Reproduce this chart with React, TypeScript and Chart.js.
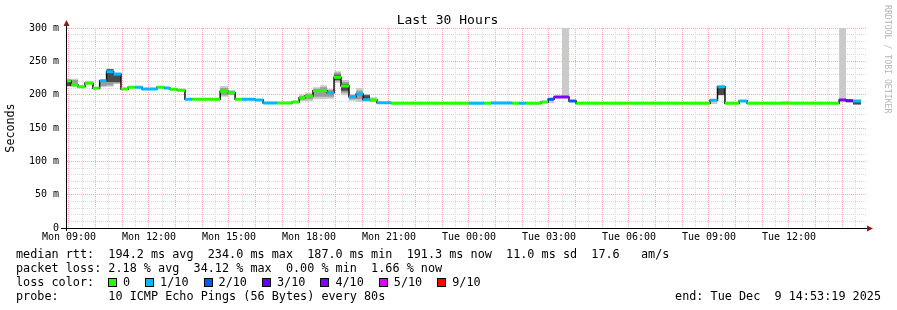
import React, { useEffect, useRef } from 'react';
import { Chart, registerables } from 'chart.js';

Chart.register(...registerables);

// x axis: hours since Mon 00:00; window = last 30 hours ending Tue 14:53:19
const windowStart = 8 + 53 / 60 + 19 / 3600;
const windowEnd = windowStart + 30;

const chartTitle = 'Last 30 Hours';
const yAxisTitle = 'Seconds';
const watermark = 'RRDTOOL / TOBI OETIKER';

const xLabelHours = [9, 12, 15, 18, 21, 24, 27, 30, 33, 36];
const xLabelText = ['Mon 09:00', 'Mon 12:00', 'Mon 15:00', 'Mon 18:00', 'Mon 21:00', 'Tue 00:00', 'Tue 03:00', 'Tue 06:00', 'Tue 09:00', 'Tue 12:00'];
const yLabelValues = [0, 50, 100, 150, 200, 250, 300];
const yLabelText = ['0', '50 m', '100 m', '150 m', '200 m', '250 m', '300 m'];

// median RTT segments (start hour, ms, lost pings out of 10)
const segStart = [
  8.889, 9.08, 9.34, 9.60, 9.90, 10.15, 10.41, 10.67, 10.95, 11.22,
  11.48, 11.74, 12.30, 12.57, 12.79, 13.05, 13.35, 13.62, 14.67, 14.97,
  15.23, 15.49, 15.98, 16.28, 16.80, 17.37, 17.63, 17.85, 18.15, 18.42,
  18.68, 18.94, 19.20, 19.50, 19.77, 20.03, 20.29, 20.55, 21.08, 24.00,
  24.57, 24.83, 25.62, 25.88, 26.14, 26.70, 26.97, 27.19, 27.49, 27.75,
  28.02, 33.04, 33.32, 33.60, 34.13, 34.43, 35.74, 36.00, 37.88, 38.14,
  38.40,
];
const segEnd = 38.70;
const medianMs = [
  221, 214.5, 212, 217, 209.5, 221, 234.5, 231, 208.5, 211,
  211, 208.5, 211, 210, 208, 206.5, 193, 193, 205, 203,
  193, 193, 192, 187.5, 187.5, 189, 195.5, 198, 206, 206,
  203, 226, 213, 197, 201, 192.5, 192, 188, 187, 187,
  187, 187.5, 187, 187, 187, 189, 193, 196.5, 196.5, 190.5,
  187, 191.5, 212, 187, 190.5, 187, 187, 187, 192, 191,
  190.5,
];
const lossTenths = [
  0, 0, 0, 0, 0, 1, 1, 1, 0, 0,
  1, 1, 0, 1, 0, 0, 1, 0, 0, 0,
  0, 1, 1, 1, 0, 0, 0, 0, 0, 0,
  1, 0, 0, 1, 1, 1, 0, 1, 0, 1,
  0, 1, 0, 1, 0, 0, 2, 4, 4, 2,
  0, 1, 1, 0, 1, 0, 0, 0, 4, 3,
  1,
];

// smoke (ping spread) per segment, ms; null = none visible
const smokeOuterLo = [
  212, 212, null, 216, null, 211, 212, 216, null, null,
  null, null, null, null, null, null, null, null, 197, 199,
  null, null, null, null, null, null, 190, 190, 193, 193,
  194, 218, 199, 191, 189, 190, 189, null, null, null,
  null, null, null, null, null, null, 187, null, 196.5, null,
  null, 186, 199, null, null, null, 187, null, 192, 188,
  185,
];
const smokeOuterHi = [
  224, 224, null, 221, null, 221, 239, 232, null, null,
  null, null, null, null, null, null, null, null, 213, 207,
  null, null, null, null, null, null, 200, 203, 211, 214,
  209, 235, 222, 201, 210, 201, 196, null, null, null,
  null, null, null, null, null, null, 193, null, 300, null,
  null, 191.5, 212, null, null, null, 190.5, null, 300, 193,
  191,
];
const smokeInnerLo = [
  213, 213, null, 217, null, 213, 214, 217, null, null,
  null, null, null, null, null, null, null, null, 199, 200,
  null, null, null, null, null, null, 192, 193, 197, 197,
  197, 220, 203, 193, 193, 191, 190, null, null, null,
  null, null, null, null, null, null, null, null, null, null,
  null, null, 199, null, null, null, null, null, null, 189,
  185,
];
const smokeInnerHi = [
  221, 222, null, 219, null, 219, 238, 230, null, null,
  null, null, null, null, null, null, null, null, 210, 205,
  null, null, null, null, null, null, 198, 201, 209, 211,
  207, 233, 219, 199, 206, 200, 194, null, null, null,
  null, null, null, null, null, null, null, null, null, null,
  null, null, 211.5, null, null, null, null, null, null, 192,
  190,
];
const smokeCoreLo = [
  213, null, null, null, null, null, 219, 219, null, null,
  null, null, null, null, null, null, null, null, null, null,
  null, null, null, null, null, null, null, null, null, null,
  null, 222, 206, null, null, 191, null, null, null, null,
  null, null, null, null, null, null, null, null, null, null,
  null, null, 199.5, null, null, null, null, null, null, null,
  185.5,
];
const smokeCoreHi = [
  219, null, null, null, null, null, 238, 229, null, null,
  null, null, null, null, null, null, null, null, null, null,
  null, null, null, null, null, null, null, null, null, null,
  null, 230, 216, null, null, 199, null, null, null, null,
  null, null, null, null, null, null, null, null, null, null,
  null, null, 211, null, null, null, null, null, null, null,
  189.5,
];

const lossLevels = [0, 1, 2, 3, 4, 5, 9];
const lossLabels = ['0', '1/10', '2/10', '3/10', '4/10', '5/10', '9/10'];
const lossColors = ['#26ff00', '#00b8ff', '#0059ff', '#5e00ff', '#7e00ff', '#dd00ff', '#ff0000'];

const statRows = [
  'median rtt:  194.2 ms avg  234.0 ms max  187.0 ms min  191.3 ms now  11.0 ms sd  17.6   am/s',
  'packet loss: 2.18 % avg  34.12 % max  0.00 % min  1.66 % now',
];
const lossRowLabel = 'loss color:';
const probeRow = 'probe:       10 ICMP Echo Pings (56 Bytes) every 80s';
const endRow = 'end: Tue Dec  9 14:53:19 2025';

const MONO = '"DejaVu Sans Mono", monospace';
const MAJOR_GRID = '#f4aaaa';
const MINOR_GRID = '#dadada';

function stepPoints(vals: (number | null)[]) {
  const n = segStart.length;
  const pts = segStart.map((x, i) => ({ x, y: vals[i] ?? medianMs[i] }));
  pts.push({ x: segEnd, y: vals[n - 1] ?? medianMs[n - 1] });
  return pts;
}

function barPoints(level: number) {
  const pts: { x: number; y: number | null }[] = [];
  const n = segStart.length;
  for (let i = 0; i < n; i++) {
    if (lossTenths[i] !== level) continue;
    const e = i < n - 1 ? segStart[i + 1] : segEnd;
    pts.push({ x: segStart[i], y: medianMs[i] }, { x: e, y: medianMs[i] }, { x: e, y: null });
  }
  return pts;
}

const axisArrows = {
  id: 'axisArrows',
  afterDraw(chart: any) {
    const { ctx, chartArea } = chart;
    const { left, right, top, bottom } = chartArea;
    const lx = Math.round(left) + 0.5;
    const by = Math.round(bottom) + 0.5;
    ctx.save();
    ctx.strokeStyle = '#000';
    ctx.lineWidth = 1;
    ctx.beginPath();
    ctx.moveTo(lx, bottom + 3);
    ctx.lineTo(lx, top - 4);
    ctx.stroke();
    ctx.beginPath();
    ctx.moveTo(left - 5, by);
    ctx.lineTo(right + 2, by);
    ctx.stroke();
    ctx.fillStyle = '#8b1a1a';
    ctx.beginPath();
    ctx.moveTo(lx - 3, top - 2);
    ctx.lineTo(lx + 3, top - 2);
    ctx.lineTo(lx, top - 8);
    ctx.closePath();
    ctx.fill();
    ctx.beginPath();
    ctx.moveTo(right + 1, by - 3);
    ctx.lineTo(right + 1, by + 3);
    ctx.lineTo(right + 7, by);
    ctx.closePath();
    ctx.fill();
    ctx.restore();
  },
};

export default function App() {
  const ref = useRef<HTMLCanvasElement>(null);

  useEffect(() => {
    const common = { pointRadius: 0, pointHoverRadius: 0, tension: 0 };
    const barSets = lossLevels.map((lv, k) => ({
      ...common,
      label: lossLabels[k],
      data: barPoints(lv),
      borderColor: lossColors[k],
      borderWidth: 3,
      borderCapStyle: 'butt',
      spanGaps: false,
      fill: false,
    }));
    const smokePair = (hi: any[], lo: any[], color: string, loIndex: number) => [
      { ...common, data: stepPoints(hi), stepped: 'before', borderWidth: 0, borderColor: 'rgba(0,0,0,0)', backgroundColor: color, fill: loIndex },
      { ...common, data: stepPoints(lo), stepped: 'before', borderWidth: 0, borderColor: 'rgba(0,0,0,0)', fill: false },
    ];
    const datasets: any[] = [
      ...barSets, // 0-6
      { ...common, data: stepPoints(medianMs), stepped: 'before', borderColor: '#101010', borderWidth: 1.5, fill: false }, // 7
      ...smokePair(smokeCoreHi, smokeCoreLo, '#4a4a4a', 9), // 8,9
      ...smokePair(smokeInnerHi, smokeInnerLo, '#9c9c9c', 11), // 10,11
      ...smokePair(smokeOuterHi, smokeOuterLo, '#cacaca', 13), // 12,13
    ];

    const tickFont = { family: MONO, size: 10 };
    const chart = new Chart(ref.current as HTMLCanvasElement, {
      type: 'line',
      data: { datasets },
      plugins: [axisArrows],
      options: {
        animation: false,
        responsive: false,
        devicePixelRatio: 1,
        events: [],
        layout: { padding: { top: 28, right: 31, left: 0, bottom: 0 }, autoPadding: false },
        plugins: { legend: { display: false }, tooltip: { enabled: false }, title: { display: false } },
        scales: {
          x: {
            type: 'linear',
            min: windowStart,
            max: windowEnd,
            afterBuildTicks: (s: any) => {
              const t: any[] = [];
              for (let h = 9; h < windowEnd; h += 0.5) t.push({ value: h });
              s.ticks = t;
            },
            afterFit: (s: any) => { s.height = 82; },
            ticks: {
              autoSkip: false,
              maxRotation: 0,
              minRotation: 0,
              padding: 3,
              color: '#000',
              font: tickFont,
              callback: (v: any) => {
                const k = xLabelHours.indexOf(v);
                return k >= 0 ? xLabelText[k] : '';
              },
            },
            grid: {
              drawTicks: false,
              lineWidth: 1,
              color: (c: any) => (c.tick && Number.isInteger(c.tick.value) ? MAJOR_GRID : MINOR_GRID),
            },
            border: { color: '#000', width: 1, dash: [1, 1] },
          },
          y: {
            type: 'linear',
            min: 0,
            max: 300,
            afterBuildTicks: (s: any) => {
              const t: any[] = [];
              for (let v = 0; v <= 300; v += 10) t.push({ value: v });
              s.ticks = t;
            },
            afterFit: (s: any) => { s.width = 66; },
            ticks: {
              autoSkip: false,
              padding: 7,
              color: '#000',
              font: tickFont,
              callback: (v: any) => {
                const k = yLabelValues.indexOf(v);
                return k >= 0 ? yLabelText[k] : '';
              },
            },
            title: {
              display: true,
              text: yAxisTitle,
              color: '#000',
              font: { family: MONO, size: 11.7 },
              padding: { top: 4, bottom: 0 },
            },
            grid: {
              drawTicks: false,
              lineWidth: 1,
              color: (c: any) => (c.tick && c.tick.value % 50 === 0 ? MAJOR_GRID : MINOR_GRID),
            },
            border: { color: '#000', width: 1, dash: [1, 1] },
          },
        },
      } as any,
    });
    return () => chart.destroy();
  }, []);

  const textStyle: React.CSSProperties = {
    position: 'absolute',
    left: 16,
    fontSize: 11.8,
    lineHeight: '14px',
    whiteSpace: 'pre',
    color: '#000',
  };

  return (
    <div style={{ position: 'absolute', left: 0, top: 0, width: 897, height: 310, background: '#fff', overflow: 'hidden', fontFamily: MONO }}>
      <canvas ref={ref} width={897} height={310} style={{ position: 'absolute', left: 0, top: 0, width: 897, height: 310 }} />
      <div style={{ position: 'absolute', left: -1, top: 11.5, width: 897, textAlign: 'center', fontSize: 13, lineHeight: '16px', whiteSpace: 'pre', color: '#000' }}>{chartTitle}</div>
      <div style={{ position: 'absolute', left: 883, top: 5, writingMode: 'vertical-rl', fontSize: 8.2, lineHeight: '10px', whiteSpace: 'pre', color: '#b4b4b4' }}>{watermark}</div>
      <div style={{ ...textStyle, top: 247.3 }}>{statRows[0]}</div>
      <div style={{ ...textStyle, top: 261.2 }}>{statRows[1]}</div>
      <div style={{ ...textStyle, top: 275.2, display: 'flex', alignItems: 'center', height: 14 }}>
        <span style={{ width: 92 }}>{lossRowLabel}</span>
        {lossLabels.map((lab, k) => (
          <span key={lab} style={{ display: 'flex', alignItems: 'center' }}>
            <span style={{ display: 'inline-block', width: 9, height: 9, boxSizing: 'border-box', border: '1px solid #000', background: lossColors[k] }} />
            <span style={{ marginLeft: 6, marginRight: 15 }}>{lab}</span>
          </span>
        ))}
      </div>
      <div style={{ ...textStyle, top: 289.2 }}>{probeRow}</div>
      <div style={{ ...textStyle, left: undefined, right: 16, top: 289.2 }}>{endRow}</div>
    </div>
  );
}
